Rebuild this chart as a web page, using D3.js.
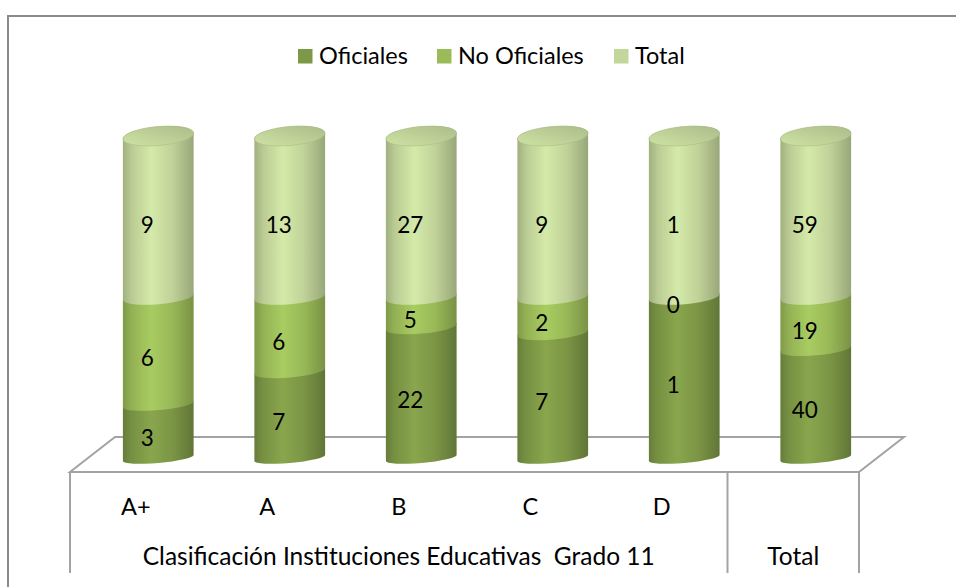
<!DOCTYPE html>
<html>
<head>
<meta charset="utf-8">
<script src="https://cdn.jsdelivr.net/npm/d3@7"></script>
<style>
  html, body { margin: 0; padding: 0; background: #fff; }
  svg { display: block; font-family: Lato, "Open Sans", sans-serif; }
</style>
</head>
<body>
<svg id="chart" width="956" height="587"></svg>
<script>
// ---- data ----
const categories = ["A+", "A", "B", "C", "D", "Total"];
const seriesNames = ["Oficiales", "No Oficiales", "Total"];
const oficiales   = [3, 7, 22, 7, 1, 40];
const noOficiales = [6, 6, 5, 2, 0, 19];
const totales     = [9, 13, 27, 9, 1, 59];
const groupLabels = ["Clasificación Instituciones Educativas  Grado 11", "Total"];
const seriesColors = ["#7d9846", "#9bbb59", "#c3d69b"];

const svg = d3.select("#chart");
const W = 956, H = 587;

// ---- outer frame (left & top visible) ----
svg.append("path")
  .attr("d", `M8,${H} L8,16 L${W},16`)
  .attr("fill", "none").attr("stroke", "#8a8a8a").attr("stroke-width", 2);

// ---- scales ----
const x = d3.scaleBand().domain(categories).range([70, 859]).paddingInner(0).paddingOuter(0);
const depthShift = 22.5;            // half of floor depth shift (45px)
const y = d3.scaleLinear().domain([0, 1]).range([458, 136]);
const labelY = d3.scaleLinear().domain([0, 1]).range([464, 145]);

// ---- floor ----
const floorFrontY = 472, floorBackY = 437, floorDepth = 45;
const floor = svg.append("g").attr("stroke", "#a3a3a3").attr("stroke-width", 2).attr("fill", "none");
floor.append("path")
  .attr("d", `M70,${floorFrontY} L${70 + floorDepth},${floorBackY} L${859 + floorDepth},${floorBackY} L859,${floorFrontY} Z`)
  .attr("fill", "#fff");

// ---- stacked data (100% stacked) ----
const rows = categories.map((c, i) => ({cat: c, "Oficiales": oficiales[i], "No Oficiales": noOficiales[i], "Total": totales[i]}));
const stack = d3.stack().keys(seriesNames).offset(d3.stackOffsetExpand);
const stacked = stack(rows);

// ---- gradients ----
const defs = svg.append("defs");
seriesColors.forEach((col, i) => {
  const c = d3.color(col);
  const g = defs.append("linearGradient").attr("id", "grad" + i).attr("x1", "0%").attr("x2", "100%").attr("y1", "0%").attr("y2", "0%");
  g.append("stop").attr("offset", "0%").attr("stop-color", c.darker(0.55));
  g.append("stop").attr("offset", "12%").attr("stop-color", c.darker(0.15));
  g.append("stop").attr("offset", "40%").attr("stop-color", c.brighter(0.25));
  g.append("stop").attr("offset", "70%").attr("stop-color", c.darker(0.05));
  g.append("stop").attr("offset", "100%").attr("stop-color", c.darker(0.7));
});
{
  const c = d3.color(seriesColors[2]);
  const g = defs.append("linearGradient").attr("id", "capGrad").attr("x1", "0%").attr("x2", "100%").attr("y1", "100%").attr("y2", "0%");
  g.append("stop").attr("offset", "0%").attr("stop-color", c.brighter(0.15));
  g.append("stop").attr("offset", "100%").attr("stop-color", c.darker(0.35));
}

// ---- cylinders ----
const rx = 35.5, tilt = -5;
const th = tilt * Math.PI / 180;
const ryAt = v => 5 + 4.5 * v;
function ends(cx, v) {
  const cy = y(v);
  return {
    L: [cx - rx * Math.cos(th), cy - rx * Math.sin(th)],
    R: [cx + rx * Math.cos(th), cy + rx * Math.sin(th)],
    ry: ryAt(v)
  };
}
function segPath(cx, v0, v1) {
  const a = ends(cx, v0), b = ends(cx, v1);
  return `M${b.L} L${a.L} A${rx},${a.ry} ${tilt} 0 0 ${a.R} L${b.R} A${rx},${b.ry} ${tilt} 0 0 ${b.L} Z`;
}
function capPath(cx, v) {
  const a = ends(cx, v);
  return `M${a.L} A${rx},${a.ry} ${tilt} 0 0 ${a.R} A${rx},${a.ry} ${tilt} 0 0 ${a.L} Z`;
}

const cyl = svg.append("g");
categories.forEach((cat, ci) => {
  const cx = x(cat) + x.bandwidth() / 2 + depthShift;
  const g = cyl.append("g");
  stacked.forEach((s, si) => {
    const d = s[ci];
    if (d[1] - d[0] <= 0) return;
    g.append("path").attr("d", segPath(cx, d[0], d[1])).attr("fill", `url(#grad${si})`);
  });
  g.append("path").attr("d", capPath(cx, 1)).attr("fill", "url(#capGrad)")
    .attr("stroke", d3.color(seriesColors[2]).darker(0.4)).attr("stroke-width", 0.6);
});

// ---- value labels ----
const lab = svg.append("g").attr("font-size", 22.5).attr("fill", "#000").attr("text-anchor", "middle");
const rawSeries = [oficiales, noOficiales, totales];
categories.forEach((cat, ci) => {
  const cx = x(cat) + x.bandwidth() / 2 + depthShift - 11;
  stacked.forEach((s, si) => {
    const d = s[ci];
    lab.append("text")
      .attr("x", cx)
      .attr("y", labelY((d[0] + d[1]) / 2))
      .attr("dominant-baseline", "central")
      .text(rawSeries[si][ci]);
  });
});

// ---- floor front line ----
svg.append("line").attr("x1", 70).attr("x2", 859).attr("y1", floorFrontY).attr("y2", floorFrontY)
  .attr("stroke", "#a3a3a3").attr("stroke-width", 2);

// ---- category axis box ----
const axisG = svg.append("g").attr("stroke", "#a3a3a3").attr("stroke-width", 2);
[70, x("Total"), 859].forEach(xx => {
  axisG.append("line").attr("x1", xx).attr("x2", xx).attr("y1", floorFrontY).attr("y2", 573);
});
const catLab = svg.append("g").attr("font-size", 23.5).attr("text-anchor", "middle").attr("fill", "#000");
categories.slice(0, 5).forEach(cat => {
  catLab.append("text").attr("x", x(cat) + x.bandwidth() / 2).attr("y", 515).text(cat);
});
catLab.append("text").attr("x", (70 + x("Total")) / 2).attr("y", 565)
  .attr("font-size", 24.5).style("white-space", "pre").text(groupLabels[0]);
catLab.append("text").attr("x", x("Total") + x.bandwidth() / 2).attr("y", 565).attr("font-size", 24.5).text(groupLabels[1]);

// ---- legend ----
const legendX = [298, 437, 614];
const leg = svg.append("g").attr("font-size", 23.5);
seriesNames.forEach((n, i) => {
  leg.append("rect").attr("x", legendX[i]).attr("y", 49).attr("width", 14.5).attr("height", 14.5).attr("fill", seriesColors[i]);
  leg.append("text").attr("x", legendX[i] + 21).attr("y", 64).attr("fill", "#000").text(n);
});
</script>
</body>
</html>
